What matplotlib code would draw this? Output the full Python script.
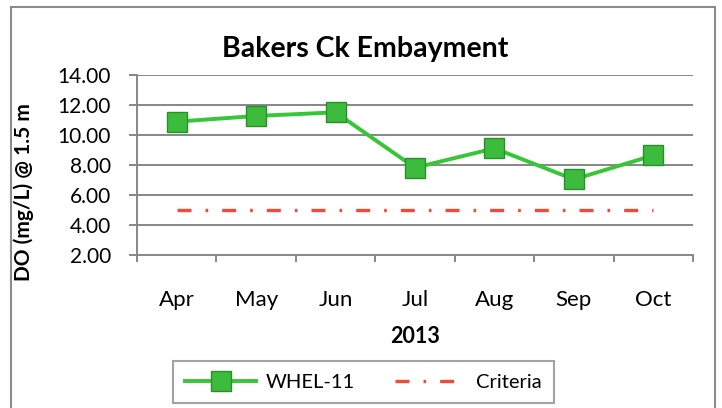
import numpy as np
import matplotlib
matplotlib.use('Agg')
import matplotlib.pyplot as plt
from matplotlib.patches import Rectangle
from matplotlib.ticker import FormatStrFormatter, FixedLocator

plt.rcParams['font.family'] = ['Lato', 'DejaVu Sans']

# chart data
months = ['Apr', 'May', 'Jun', 'Jul', 'Aug', 'Sep', 'Oct']
whel_11 = [10.89, 11.27, 11.51, 7.82, 9.11, 7.04, 8.64]
criteria = [5.0, 5.0, 5.0, 5.0, 5.0, 5.0, 5.0]
y_ticks = [2, 4, 6, 8, 10, 12, 14]

W, H = 722, 408
fig = plt.figure(figsize=(W / 100, H / 100), dpi=100)

# outer chart border
fig.patches.append(Rectangle((11 / W, -0.05), (715 - 11) / W, 1.05 - 7 / H,
                             transform=fig.transFigure, fill=False,
                             edgecolor='#8c8c8c', linewidth=1.5))

ax = fig.add_axes([137 / W, 1 - 255 / H, (693 - 137) / W, (255 - 75) / H])
x = np.arange(len(months))

grid_col = '#878787'
for v in y_ticks[1:]:
    ax.axhline(v, color=grid_col, linewidth=1.4, zorder=1)

crit_line, = ax.plot(x, criteria, color='#f24a3a', linewidth=2.4,
                     linestyle=(0, (4.2, 4.2, 0.8, 4.2)), zorder=2,
                     label='Criteria')
main_line, = ax.plot(x, whel_11, color='#36c636', linewidth=2.8,
                     marker='s', markersize=14, markerfacecolor='#3dbb3d',
                     markeredgecolor='#2a8f2a', markeredgewidth=1.0,
                     zorder=3, label='WHEL-11')

ax.set_xlim(-0.5, len(months) - 0.5)
ax.set_ylim(2, 14)
ax.set_yticks(y_ticks)
ax.yaxis.set_major_formatter(FormatStrFormatter('%.2f'))
ax.set_xticks(x)
ax.set_xticklabels(months)
ax.xaxis.set_minor_locator(FixedLocator(np.arange(-0.5, len(months), 1.0)))
ax.tick_params(axis='x', which='major', length=0, pad=25, labelsize=16)
ax.tick_params(axis='x', which='minor', length=5, width=1.4, color=grid_col)
ax.tick_params(axis='y', length=5.8, width=1.4, color=grid_col, labelsize=15, pad=13)

for s in ['top', 'right']:
    ax.spines[s].set_visible(False)
for s in ['left', 'bottom']:
    ax.spines[s].set_color(grid_col)
    ax.spines[s].set_linewidth(1.4)

ax.set_xlabel('2013', fontsize=15.5, fontweight='bold')
ax.xaxis.set_label_coords(0.5, -0.394)
ax.set_ylabel('DO (mg/L) @ 1.5 m', fontsize=15, fontweight='bold')
ax.yaxis.set_label_coords(-0.185, 0.35)

fig.text(365 / W, 1 - 57 / H, 'Bakers Ck Embayment', fontsize=20.5,
         fontweight='bold', ha='center', va='baseline')

leg = fig.legend(handles=[main_line, crit_line], loc='center',
                 bbox_to_anchor=(363.5 / W, 1 - 382 / H), ncol=2,
                 fontsize=14.5, frameon=True, fancybox=False,
                 handlelength=3.5, columnspacing=2.0, borderpad=0.6,
                 handletextpad=0.5)
leg.get_frame().set_edgecolor('#8c8c8c')
leg.get_frame().set_linewidth(1.5)

fig.savefig('out.png', dpi=100)
